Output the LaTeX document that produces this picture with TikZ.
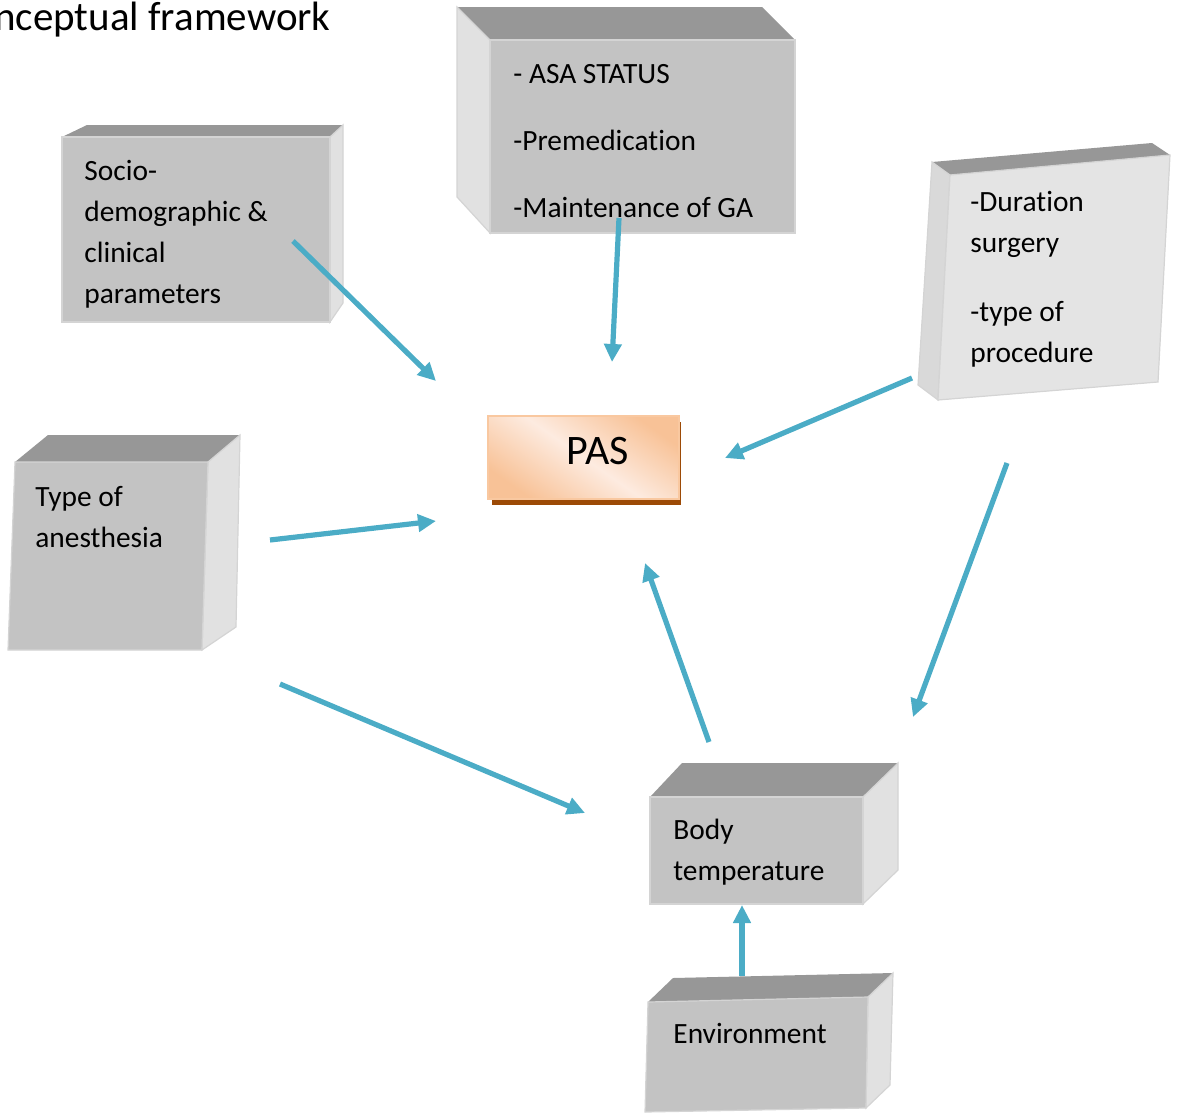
\documentclass[tikz,border=0pt]{standalone}
\usepackage{fontspec}
\setmainfont[Ligatures=NoCommon]{Carlito}
\usetikzlibrary{arrows.meta}
\definecolor{boxfront}{HTML}{C3C3C3}
\definecolor{boxtop}{HTML}{979797}
\definecolor{boxside}{HTML}{E1E1E1}
\definecolor{boxlight}{HTML}{E4E4E4}
\definecolor{boxleft}{HTML}{D9D9D9}
\definecolor{boxedge}{HTML}{D4D4D4}
\definecolor{linkblue}{HTML}{4BACC6}
\definecolor{paspeach}{HTML}{F8C297}
\definecolor{paslight}{HTML}{FDEBE0}
\definecolor{pasedge}{HTML}{F9C8A0}
\definecolor{passhadow}{HTML}{9C4A06}
\tikzstyle{frontface}=[fill=boxfront,draw=boxedge,line width=0.6pt]
\tikzstyle{topface}=[fill=boxtop]
\tikzstyle{sideface}=[fill=boxside,draw=boxedge,line width=0.6pt]
\tikzstyle{boxtext}=[inner sep=0pt,align=left,anchor=base west,font=\fontsize{14.7}{20.5}\selectfont]
\tikzstyle{link}=[draw=linkblue,line width=2.6pt,-{Triangle[length=9pt,width=8.5pt]}]

\begin{document}
\begin{tikzpicture}[x=0.5pt,y=-0.5pt]
    \useasboundingbox (0,0) rectangle (1177,1114);
    % title
    \node[inner sep=0pt,anchor=base east,font=\fontsize{20.5}{24}\selectfont] (title) at (331,30) {Conceptual framework};
    % ASA box
    \fill[topface] (457,7) -- (762,7) -- (795,40) -- (490,40) -- cycle;
    \filldraw[sideface] (457,7) -- (490,40) -- (490,233) -- (457,197) -- cycle;
    \filldraw[frontface] (490,40) rectangle (795,233);
    \node[boxtext] (asa) at (513,217) {- ASA STATUS\\[13pt]-Premedication\\[13pt]-Maintenance of GA};
    % socio-demographic box
    \fill[topface] (87,125) -- (343,125) -- (330,137) -- (62,137) -- cycle;
    \filldraw[sideface] (330,137) -- (343,125) -- (343,303) -- (330,322) -- cycle;
    \filldraw[frontface] (62,137) rectangle (330,322);
    \node[boxtext] (socio) at (84,303) {Socio-\\demographic \&\\clinical\\parameters};
    % type of anesthesia box
    \fill[topface] (48,435) -- (240,435) -- (208,462) -- (15,462) -- cycle;
    \filldraw[sideface] (208,462) -- (240,435) -- (236,627) -- (202,650) -- cycle;
    \filldraw[frontface] (15,462) -- (208,462) -- (202,650) -- (8,650) -- cycle;
    \node[boxtext] (anes) at (35,547) {Type of\\anesthesia};
    % duration box
    \fill[topface] (932,162) -- (1152,143) -- (1170,155) -- (950,175) -- cycle;
    \filldraw[fill=boxleft,draw=boxedge,line width=0.6pt] (932,162) -- (950,175) -- (938,400) -- (918,385) -- cycle;
    \filldraw[fill=boxlight,draw=boxedge,line width=0.6pt] (950,175) -- (1170,155) -- (1158,382) -- (938,400) -- cycle;
    \node[boxtext] (dur) at (970,362) {-Duration\\surgery\\[14pt]-type of\\procedure};
    % body temperature box
    \fill[topface] (682,763) -- (898,763) -- (863,797) -- (650,797) -- cycle;
    \filldraw[sideface] (863,797) -- (898,763) -- (898,870) -- (863,904) -- cycle;
    \filldraw[frontface] (650,797) rectangle (863,904);
    \node[boxtext] (body) at (673,880) {Body\\temperature};
    % environment box
    \fill[topface] (673,978) -- (893,973) -- (868,997) -- (648,1002) -- cycle;
    \filldraw[sideface] (868,997) -- (893,973) -- (890,1085) -- (866,1108) -- cycle;
    \filldraw[frontface] (648,1002) -- (868,997) -- (866,1108) -- (645,1112) -- cycle;
    \node[boxtext] (env) at (673,1043) {Environment};
    % PAS
    \fill[passhadow] (492,422) rectangle (681,505);
    \draw[pasedge,line width=1pt,left color=paspeach,right color=paspeach,middle color=paslight,shading angle=-35] (488,416) rectangle (679,499);
    \node[font=\fontsize{21}{25}\selectfont] (pas) at (598,451) {PAS};
    % arrow ends
    \coordinate (socio-out) at (293,241);
    \coordinate (pas-in1) at (436,381);
    \coordinate (asa-out) at (619,218);
    \coordinate (pas-in2) at (612,362);
    \coordinate (dur-out1) at (912,378);
    \coordinate (pas-in3) at (725,458);
    \coordinate (anes-out1) at (270,540);
    \coordinate (pas-in4) at (436,521);
    \coordinate (anes-out2) at (280,684);
    \coordinate (body-in1) at (585,813);
    \coordinate (dur-out2) at (1007,463);
    \coordinate (body-in2) at (913,717);
    \coordinate (body-out) at (709,742);
    \coordinate (pas-in5) at (645,563);
    \coordinate (env-out) at (742,976);
    \coordinate (body-in3) at (742,905);
    \draw[link] (socio-out) -- (pas-in1);
    \draw[link] (asa-out) -- (pas-in2);
    \draw[link] (dur-out1) -- (pas-in3);
    \draw[link] (anes-out1) -- (pas-in4);
    \draw[link] (anes-out2) -- (body-in1);
    \draw[link] (dur-out2) -- (body-in2);
    \draw[link] (body-out) -- (pas-in5);
    \draw[link] (env-out) -- (body-in3);
\end{tikzpicture}
\end{document}
